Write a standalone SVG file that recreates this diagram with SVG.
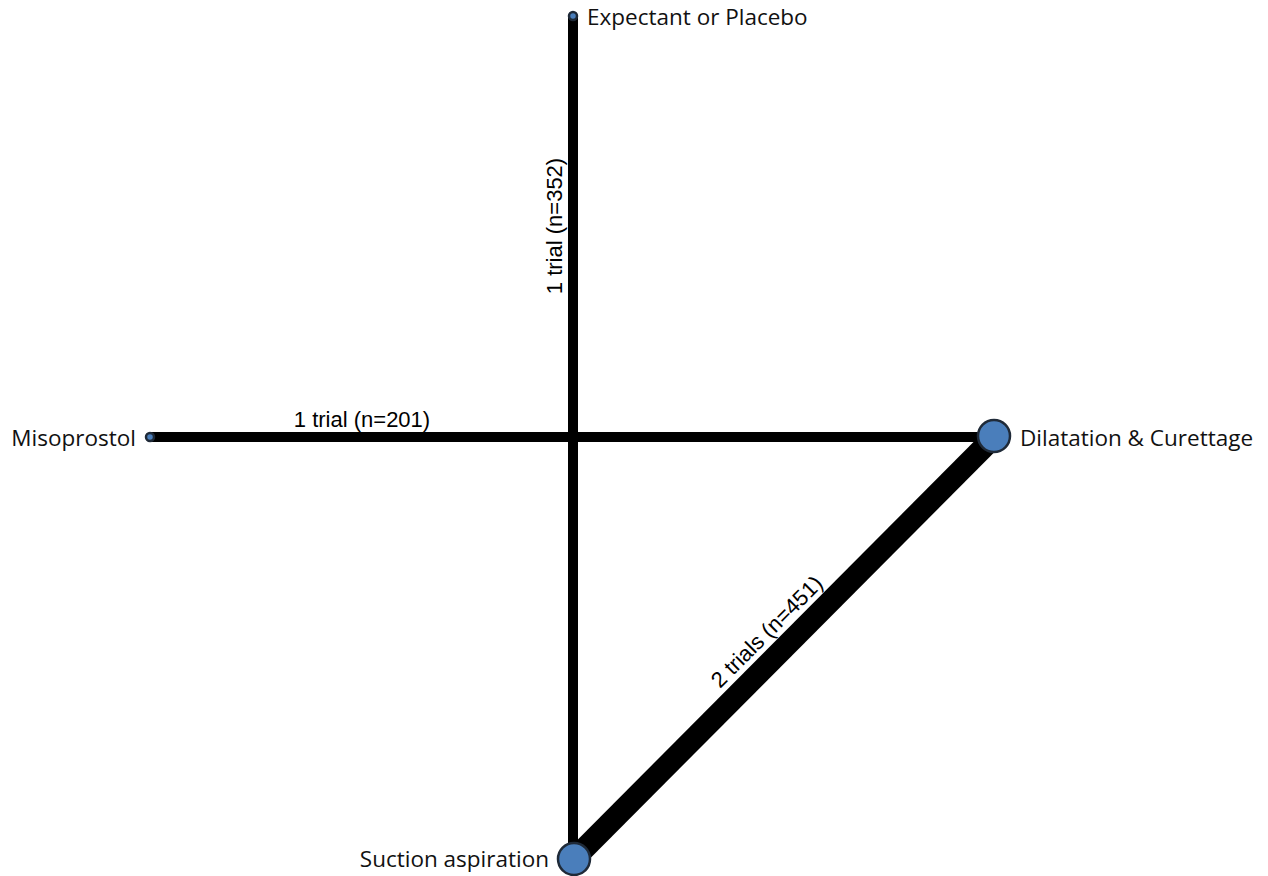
<svg xmlns="http://www.w3.org/2000/svg" width="1268" height="876" viewBox="0 0 1268 876">
<style>
.e{stroke:#000;fill:none;stroke-linecap:butt}
.n{fill:#4a7ebb;stroke:#1f2a38;stroke-width:2.5}
.nl{font-family:"Open Sans","Liberation Sans",sans-serif;font-size:22.5px;fill:#111}
.el{font-family:"Liberation Sans",Arial,sans-serif;font-size:22px;fill:#000}
</style>
<rect width="1268" height="876" fill="#fff"/>
<g id="connectors">
<line class="e" x1="573" y1="16" x2="573" y2="859" stroke-width="10"/>
<line class="e" x1="150" y1="437" x2="994" y2="437" stroke-width="10"/>
<line class="e" x1="994" y1="437" x2="574" y2="859" stroke-width="22"/>
<text class="el" x="362" y="427" text-anchor="middle">1 trial (n=201)</text>
<text class="el" transform="translate(562,226) rotate(-90)" text-anchor="middle">1 trial (n=352)</text>
<text class="el" transform="translate(772,637) rotate(-45)" text-anchor="middle">2 trials (n=451)</text>
</g>
<g id="node-expectant">
<circle class="n" cx="573" cy="16" r="4"/>
<text class="nl" x="587" y="25">Expectant or Placebo</text>
</g>
<g id="node-misoprostol">
<circle class="n" cx="150" cy="437" r="4"/>
<text class="nl" x="136" y="446" text-anchor="end">Misoprostol</text>
</g>
<g id="node-dc">
<circle class="n" cx="994" cy="436" r="16"/>
<text class="nl" x="1020" y="446">Dilatation &amp; Curettage</text>
</g>
<g id="node-suction">
<circle class="n" cx="574" cy="859" r="16"/>
<text class="nl" x="549" y="867" text-anchor="end">Suction aspiration</text>
</g>
</svg>
